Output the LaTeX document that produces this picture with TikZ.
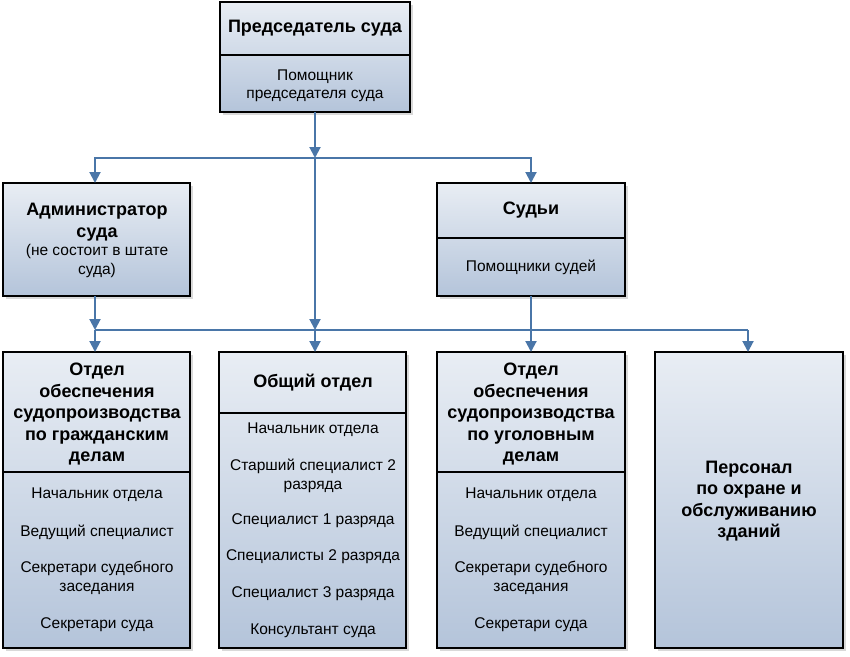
\documentclass[tikz,border=0pt]{standalone}
\usepackage{fontspec}
\setmainfont{Liberation Sans}
\usetikzlibrary{shadows,arrows.meta}
\definecolor{ln}{HTML}{4A76A8}
\definecolor{bxb}{HTML}{B4C4DA}
\tikzset{
 bx/.style={draw=black,line width=1.6pt,top color=white!70!bxb,bottom color=bxb,
   drop shadow={shadow xshift=3pt,shadow yshift=-3pt,fill=black!25,opacity=.6}},
 dv/.style={draw=black,line width=1.6pt},
 tt/.style={font=\fontsize{18}{21.5}\selectfont\bfseries,align=center,inner sep=0},
 it/.style={font=\fontsize{15.5}{18.5}\selectfont,align=center,inner sep=0},
 cn/.style={draw=ln,line width=2pt},
 ar/.style={cn,-{Triangle[length=11pt,width=11pt]}},
}
\begin{document}
\begin{tikzpicture}[x=1pt,y=-1pt]
\useasboundingbox (0,0) rectangle (850,656);
% boxes
\path[bx] (220,2) rectangle (410,112); \draw[dv] (220,55)--(410,55);
\coordinate (topS) at (315,112);
\path[bx] (3,183) rectangle (190,296); \coordinate (admN) at (95,183); \coordinate (admS) at (95,296);
\path[bx] (437,183) rectangle (625,296); \draw[dv] (437,238)--(625,238);
\coordinate (sudN) at (531,183); \coordinate (sudS) at (531,296);
\path[bx] (3,352) rectangle (190,648); \draw[dv] (3,472)--(190,472); \coordinate (civN) at (95,352);
\path[bx] (219,352) rectangle (406,648); \draw[dv] (219,413)--(406,413); \coordinate (obN) at (315,352);
\path[bx] (437,352) rectangle (625,648); \draw[dv] (437,472)--(625,472); \coordinate (crN) at (531,352);
\path[bx] (655,352) rectangle (843,648); \coordinate (peN) at (748,352);
% texts
\node[tt] (t1) at (315,28) {Председатель суда};
\node[it] (t2) at (315,86) {Помощник\\председателя суда};
\node[tt] (t3) at (97,222) {Администратор\\суда};
\node[it] (t4) at (97,261) {(не состоит в штате\\суда)};
\node[tt] (t5) at (531,210) {Судьи};
\node[it] (t6) at (531,267) {Помощники судей};
\node[tt] (t7) at (97,414) {Отдел\\обеспечения\\судопроизводства\\по гражданским\\делам};
\node[it] (t8) at (97,495) {Начальник отдела};
\node[it] (t9) at (97,532) {Ведущий специалист};
\node[it] (t10) at (97,578) {Секретари судебного\\заседания};
\node[it] (t11) at (97,625) {Секретари суда};
\node[tt] (t12) at (313,383) {Общий отдел};
\node[it] (t13) at (313,430) {Начальник отдела};
\node[it] (t14) at (313,476) {Старший специалист 2\\разряда};
\node[it] (t15) at (313,521) {Специалист 1 разряда};
\node[it] (t16) at (313,557) {Специалисты 2 разряда};
\node[it] (t17) at (313,594) {Специалист 3 разряда};
\node[it] (t18) at (313,631) {Консультант суда};
\node[tt] (t19) at (531,414) {Отдел\\обеспечения\\судопроизводства\\по уголовным\\делам};
\node[it] (t20) at (531,495) {Начальник отдела};
\node[it] (t21) at (531,532) {Ведущий специалист};
\node[it] (t22) at (531,578) {Секретари судебного\\заседания};
\node[it] (t23) at (531,625) {Секретари суда};
\node[tt] (t24) at (749,501) {Персонал\\по охране и\\обслуживанию\\зданий};
% connectors
\coordinate (a0) at (315,158);
\coordinate (b1) at (95,330);
\coordinate (b2) at (315,330);
\coordinate (b4) at (748,330);
\draw[ar] (topS) -- (a0);
\draw[cn] (95,158) -- (531,158);
\draw[ar] (a0) -| (admN);
\draw[ar] (a0) -| (sudN);
\draw[ar] (a0) -- (b2);
\draw[ar] (b2) -- (obN);
\draw[cn] (b1) -- (b4);
\draw[ar] (admS) -- (b1);
\draw[ar] (b1) -- (civN);
\draw[ar] (sudS) -- (crN);
\draw[ar] (b4) -- (peN);
\end{tikzpicture}
\end{document}
